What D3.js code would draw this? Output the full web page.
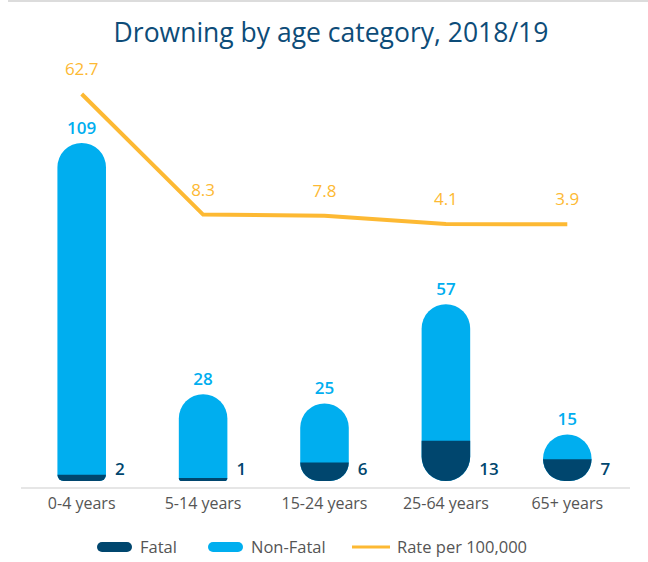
<!DOCTYPE html>
<html>
<head>
<meta charset="utf-8">
<script src="https://cdn.jsdelivr.net/npm/d3@7"></script>
<style>
  body { margin: 0; background: #fff; }
  text { font-family: "Open Sans", sans-serif; }
</style>
</head>
<body>
<div id="chart"></div>
<script>
const categories = ["0-4 years", "5-14 years", "15-24 years", "25-64 years", "65+ years"];
const nonFatal = [109, 28, 25, 57, 15];
const fatal = [2, 1, 6, 13, 7];
const rate = [62.7, 8.3, 7.8, 4.1, 3.9];
const rateLabels = ["62.7", "8.3", "7.8", "4.1", "3.9"];

const width = 648, height = 562;
const blue = "#00aeef", navy = "#00466e", gold = "#fdb933";

const svg = d3.select("#chart").append("svg")
  .attr("width", width).attr("height", height);

// thin grey rule along the top
svg.append("rect").attr("x", 8).attr("y", 0).attr("width", width - 8).attr("height", 2).attr("fill", "#dcdcdc");

svg.append("text")
  .attr("x", 331).attr("y", 42)
  .attr("text-anchor", "middle")
  .attr("fill", "#0d4c78")
  .style("font-size", "26.5px")
  .text("Drowning by age category, 2018/19");

const x = d3.scaleBand().domain(categories).range([21, 628]).paddingInner(0.6).paddingOuter(0.3);
const y = d3.scaleLinear().domain([0, 109]).range([481, 143]);
const yRate = d3.scaleLinear().domain([0, 62.7]).range([233, 94]);

const bw = x.bandwidth();

// rounded top (rt) and rounded bottom corners (rb), circular corners
function bar(x0, y0, w, h, rt, rb) {
  const x1 = x0 + w, y1 = y0 + h;
  let p = `M${x0},${y1 - rb}`;
  p += ` V${y0 + rt}`;
  if (rt > 0) p += ` A${rt},${rt} 0 0 1 ${x0 + rt},${y0}`;
  p += ` H${x1 - rt}`;
  if (rt > 0) p += ` A${rt},${rt} 0 0 1 ${x1},${y0 + rt}`;
  p += ` V${y1 - rb}`;
  if (rb > 0) p += ` A${rb},${rb} 0 0 1 ${x1 - rb},${y1}`;
  p += ` H${x0 + rb}`;
  if (rb > 0) p += ` A${rb},${rb} 0 0 1 ${x0},${y1 - rb}`;
  return p + "Z";
}

const g = svg.append("g");
categories.forEach((c, i) => {
  const x0 = x(c);
  const hn = y(0) - y(nonFatal[i]);
  const hf = y(0) - y(fatal[i]);
  const rb = Math.min(bw / 2, hf);
  const rt = Math.min(bw / 2, hn - rb);
  g.append("path").attr("d", bar(x0, y(nonFatal[i]), bw, hn, rt, rb)).attr("fill", blue);
  g.append("path").attr("d", bar(x0, y(fatal[i]), bw, hf, 0, rb)).attr("fill", navy);
});

// axis
const axis = svg.append("g").attr("transform", "translate(0,488)")
  .call(d3.axisBottom(x).tickSize(0).tickPadding(10));
axis.select(".domain").attr("stroke", "#dedede").attr("stroke-width", 1.5).attr("d", "M21,0H630");
axis.selectAll("text").attr("fill", "#555").style("font-size", "16px").style("font-family", "'Open Sans', sans-serif");

// value labels
svg.selectAll(".nf").data(nonFatal).join("text")
  .attr("x", (d, i) => x(categories[i]) + bw / 2)
  .attr("y", d => y(d) - 9)
  .attr("text-anchor", "middle").attr("fill", blue)
  .style("font-size", "17px").style("font-weight", 600)
  .text(d => d);

svg.selectAll(".f").data(fatal).join("text")
  .attr("x", (d, i) => x(categories[i]) + bw + 9)
  .attr("y", 475)
  .attr("fill", navy)
  .style("font-size", "17px").style("font-weight", 600)
  .text(d => d);

// rate line
const line = d3.line()
  .x((d, i) => x(categories[i]) + bw / 2)
  .y(d => yRate(d));
svg.append("path").datum(rate)
  .attr("d", line).attr("fill", "none")
  .attr("stroke", gold).attr("stroke-width", 4);

svg.selectAll(".r").data(rate).join("text")
  .attr("x", (d, i) => x(categories[i]) + bw / 2)
  .attr("y", d => yRate(d) - 19)
  .attr("text-anchor", "middle").attr("fill", gold)
  .style("font-size", "17px")
  .text((d, i) => rateLabels[i]);

// legend
const legend = [
  { label: "Fatal", type: "pill", color: navy, x: 97 },
  { label: "Non-Fatal", type: "pill", color: blue, x: 208 },
  { label: "Rate per 100,000", type: "line", color: gold, x: 352 }
];
const lg = svg.append("g").attr("transform", "translate(0,547)");
legend.forEach(l => {
  if (l.type === "pill") {
    lg.append("rect").attr("x", l.x).attr("y", -5).attr("width", 35).attr("height", 10).attr("rx", 5).attr("fill", l.color);
  } else {
    lg.append("line").attr("x1", l.x).attr("x2", l.x + 38).attr("stroke", l.color).attr("stroke-width", 3);
  }
  lg.append("text").attr("x", l.x + (l.type === "pill" ? 43 : 45)).attr("y", 6)
    .attr("fill", "#555").style("font-size", "16.5px").text(l.label);
});
</script>
</body>
</html>
